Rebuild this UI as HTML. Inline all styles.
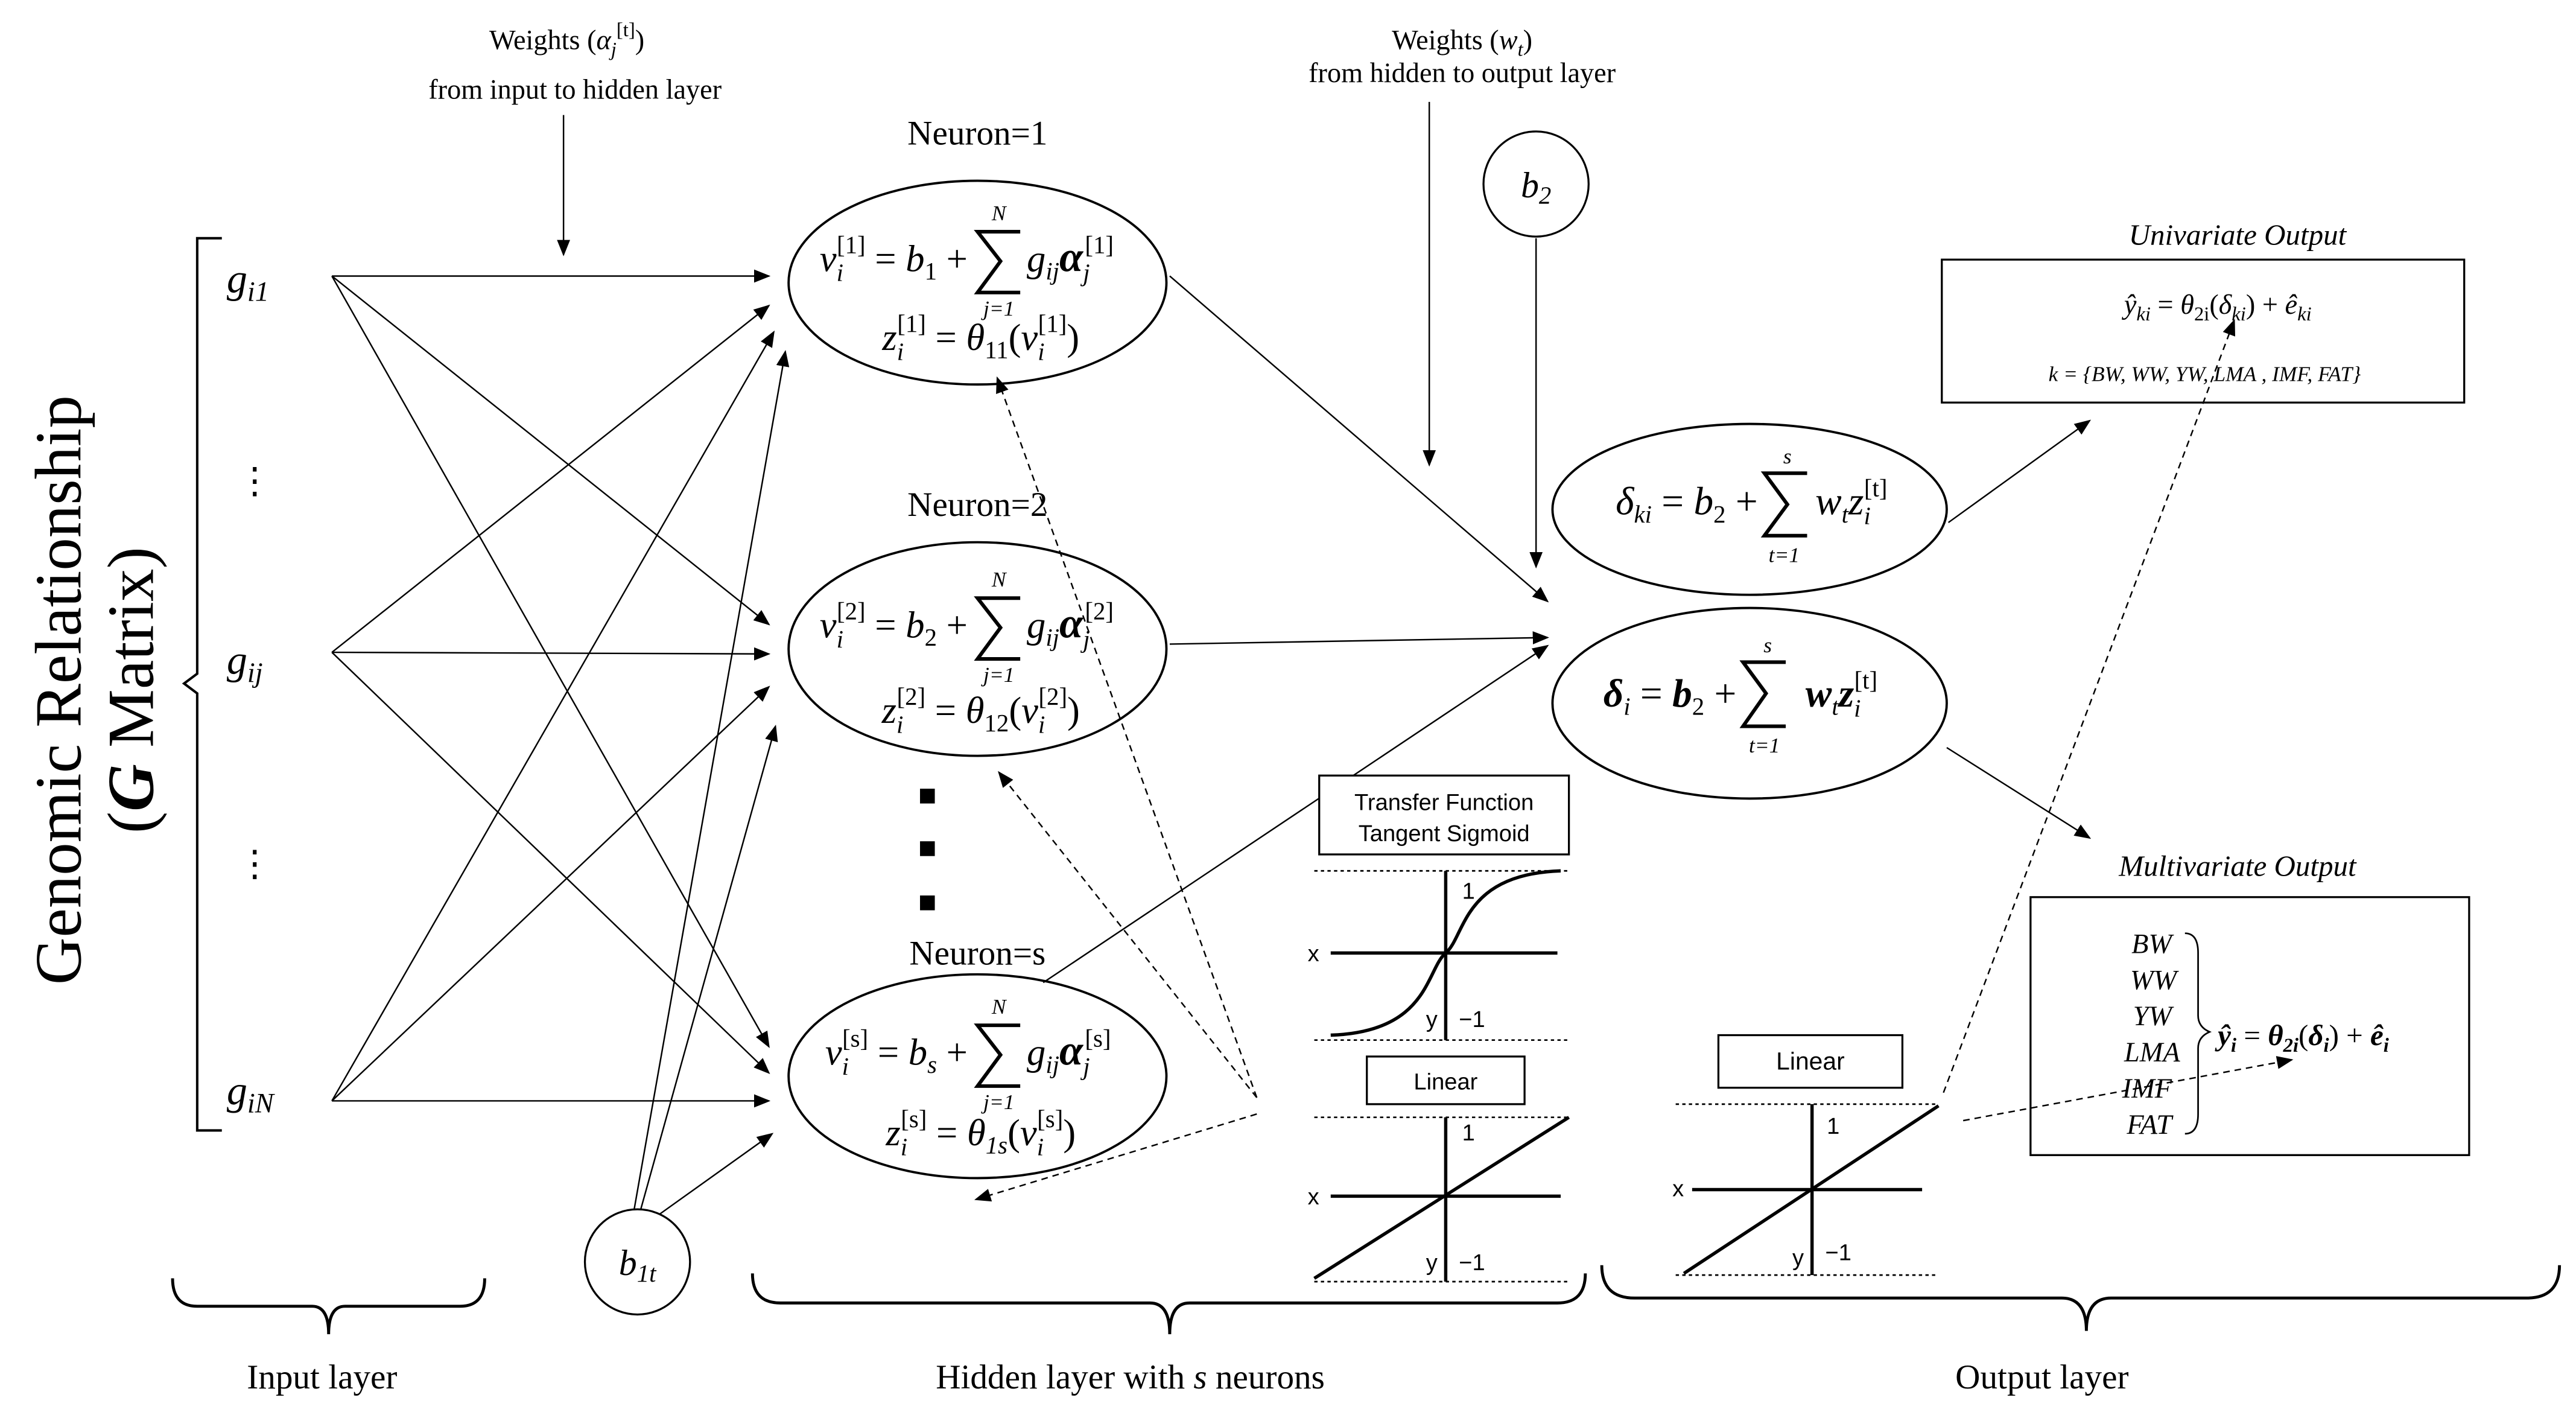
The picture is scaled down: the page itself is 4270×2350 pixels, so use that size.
<!DOCTYPE html>
<html><head><meta charset="utf-8"><style>
html,body{margin:0;padding:0;background:#fff}
svg{display:block}
text{font-family:"Liberation Serif",serif;fill:#000}
.m{font-style:italic}
.s{font-family:"Liberation Sans",sans-serif}
</style></head><body>
<svg width="4270" height="2350" viewBox="0 0 1568 863" xmlns="http://www.w3.org/2000/svg">
<defs>
<marker id="a" markerWidth="10" markerHeight="8" refX="9" refY="4" orient="auto" markerUnits="userSpaceOnUse"><path d="M0,0 L10,4 L0,8 z" fill="#000"/></marker>
</defs>
<rect width="1568" height="863" fill="#fff"/>
<g transform="translate(55,420) rotate(-90)">
<text x="0" y="-6" font-size="40" text-anchor="middle">Genomic Relationship</text>
<text x="0" y="38" font-size="40" text-anchor="middle">(<tspan font-weight="bold" font-style="italic">G</tspan>  Matrix)</text>
</g>
<path d="M135,145 L120,145 L120,410 L112,416 L120,422 L120,688 L135,688" fill="none" stroke="#000" stroke-width="1.5"/>
<g font-size="25" class="m">
<text x="138" y="178">g<tspan font-size="17" dy="5">i1</tspan></text>
<text x="138" y="410">g<tspan font-size="17" dy="5">ij</tspan></text>
<text x="138" y="672">g<tspan font-size="17" dy="5">iN</tspan></text>
</g>
<text x="155" y="300" font-size="22" text-anchor="middle">⋮</text>
<text x="155" y="533" font-size="22" text-anchor="middle">⋮</text>
<g stroke="#000" stroke-width="0.9" marker-end="url(#a)" fill="none">
<line x1="202" y1="168" x2="468" y2="168"/>
<line x1="202" y1="168" x2="468" y2="380"/>
<line x1="202" y1="168" x2="468" y2="637"/>
<line x1="202" y1="397" x2="468" y2="186"/>
<line x1="202" y1="397" x2="468" y2="398"/>
<line x1="202" y1="397" x2="468" y2="653"/>
<line x1="202" y1="670" x2="471" y2="202"/>
<line x1="202" y1="670" x2="468" y2="418"/>
<line x1="202" y1="670" x2="468" y2="670"/>
<line x1="386" y1="736" x2="478" y2="214"/>
<line x1="390" y1="736" x2="472" y2="442"/>
<line x1="400" y1="740" x2="470" y2="690"/>
<line x1="343" y1="70" x2="343" y2="155"/>
<line x1="870" y1="62" x2="870" y2="283"/>
<line x1="935" y1="145" x2="935" y2="345"/>
<line x1="712" y1="168" x2="942" y2="366"/>
<line x1="712" y1="392" x2="942" y2="388"/>
<line x1="635" y1="598" x2="942" y2="393"/>
<line x1="1186" y1="318" x2="1272" y2="256"/>
<line x1="1185" y1="455" x2="1272" y2="510"/>
</g>
<circle cx="388" cy="768" r="32" fill="#fff" stroke="#000" stroke-width="1.2"/>
<text x="388" y="776" font-size="22" class="m" text-anchor="middle">b<tspan font-size="15" dy="4">1t</tspan></text>
<text x="345" y="30" font-size="17" text-anchor="middle">Weights (<tspan class="m">α</tspan><tspan class="m" font-size="12" dy="4">j</tspan><tspan font-size="12" dy="-12">[t]</tspan><tspan dy="8">)</tspan></text>
<text x="350" y="60" font-size="17" text-anchor="middle">from input to hidden layer</text>
<text x="890" y="30" font-size="17" text-anchor="middle">Weights (<tspan class="m">w</tspan><tspan class="m" font-size="12" dy="4">t</tspan><tspan dy="-4">)</tspan></text>
<text x="890" y="50" font-size="17" text-anchor="middle">from hidden to output layer</text>
<circle cx="935" cy="112" r="32" fill="#fff" stroke="#000" stroke-width="1.2"/>
<text x="935" y="120" font-size="22" class="m" text-anchor="middle">b<tspan font-size="15" dy="4">2</tspan></text>
<g font-size="21" text-anchor="middle">
<text x="595" y="88">Neuron=1</text>
<text x="595" y="314">Neuron=2</text>
<text x="595" y="587">Neuron=s</text>
</g>
<g fill="none" stroke="#000" stroke-width="1.4">
<ellipse cx="595" cy="172" rx="115" ry="62"/>
<ellipse cx="595" cy="395" rx="115" ry="65"/>
<ellipse cx="595" cy="655" rx="115" ry="62"/>
</g>
<!-- hidden equations -->
<g font-size="23" class="m">
<g>
<text x="589" y="165" text-anchor="end">v<tspan font-size="15" dy="6">i</tspan><tspan font-size="15" dx="-4" dy="-17" font-style="normal">[1]</tspan><tspan dy="11" font-style="normal"> = </tspan>b<tspan font-size="15" dy="5" font-style="normal">1</tspan><tspan dy="-5" font-style="normal"> +</tspan></text>
<text x="625" y="165">g<tspan font-size="15" dy="5">ij</tspan><tspan dy="-5" font-weight="bold" font-size="26">α</tspan><tspan font-size="15" dy="6">j</tspan><tspan font-size="15" dx="-3" dy="-17" font-style="normal">[1]</tspan></text>
<text x="597" y="213" text-anchor="middle">z<tspan font-size="15" dy="6">i</tspan><tspan font-size="15" dx="-4" dy="-17" font-style="normal">[1]</tspan><tspan dy="11" font-style="normal"> = </tspan>θ<tspan font-size="15" dy="5" font-style="normal">11</tspan><tspan dy="-5" font-style="normal">(</tspan>v<tspan font-size="15" dy="6">i</tspan><tspan font-size="15" dx="-4" dy="-17" font-style="normal">[1]</tspan><tspan dy="11" font-style="normal">)</tspan></text>
<path d="M621,141 L595,141 L609,159 L595,178 L621,178" fill="none" stroke="#000" stroke-width="2.2"/>
<text x="608" y="134" font-size="13" text-anchor="middle">N</text><text x="608" y="192" font-size="13" text-anchor="middle">j=1</text>
</g>
<g transform="translate(0,223)">
<text x="589" y="165" text-anchor="end">v<tspan font-size="15" dy="6">i</tspan><tspan font-size="15" dx="-4" dy="-17" font-style="normal">[2]</tspan><tspan dy="11" font-style="normal"> = </tspan>b<tspan font-size="15" dy="5" font-style="normal">2</tspan><tspan dy="-5" font-style="normal"> +</tspan></text>
<text x="625" y="165">g<tspan font-size="15" dy="5">ij</tspan><tspan dy="-5" font-weight="bold" font-size="26">α</tspan><tspan font-size="15" dy="6">j</tspan><tspan font-size="15" dx="-3" dy="-17" font-style="normal">[2]</tspan></text>
<text x="597" y="217" text-anchor="middle">z<tspan font-size="15" dy="6">i</tspan><tspan font-size="15" dx="-4" dy="-17" font-style="normal">[2]</tspan><tspan dy="11" font-style="normal"> = </tspan>θ<tspan font-size="15" dy="5" font-style="normal">12</tspan><tspan dy="-5" font-style="normal">(</tspan>v<tspan font-size="15" dy="6">i</tspan><tspan font-size="15" dx="-4" dy="-17" font-style="normal">[2]</tspan><tspan dy="11" font-style="normal">)</tspan></text>
<path d="M621,141 L595,141 L609,159 L595,178 L621,178" fill="none" stroke="#000" stroke-width="2.2"/>
<text x="608" y="134" font-size="13" text-anchor="middle">N</text><text x="608" y="192" font-size="13" text-anchor="middle">j=1</text>
</g>
<g transform="translate(0,483)">
<text x="589" y="165" text-anchor="end">v<tspan font-size="15" dy="6">i</tspan><tspan font-size="15" dx="-4" dy="-17" font-style="normal">[s]</tspan><tspan dy="11" font-style="normal"> = </tspan>b<tspan font-size="15" dy="5">s</tspan><tspan dy="-5" font-style="normal"> +</tspan></text>
<text x="625" y="165">g<tspan font-size="15" dy="5">ij</tspan><tspan dy="-5" font-weight="bold" font-size="26">α</tspan><tspan font-size="15" dy="6">j</tspan><tspan font-size="15" dx="-3" dy="-17" font-style="normal">[s]</tspan></text>
<text x="597" y="214" text-anchor="middle">z<tspan font-size="15" dy="6">i</tspan><tspan font-size="15" dx="-4" dy="-17" font-style="normal">[s]</tspan><tspan dy="11" font-style="normal"> = </tspan>θ<tspan font-size="15" dy="5">1s</tspan><tspan dy="-5" font-style="normal">(</tspan>v<tspan font-size="15" dy="6">i</tspan><tspan font-size="15" dx="-4" dy="-17" font-style="normal">[s]</tspan><tspan dy="11" font-style="normal">)</tspan></text>
<path d="M621,141 L595,141 L609,159 L595,178 L621,178" fill="none" stroke="#000" stroke-width="2.2"/>
<text x="608" y="134" font-size="13" text-anchor="middle">N</text><text x="608" y="192" font-size="13" text-anchor="middle">j=1</text>
</g>
</g>
<rect x="560" y="480" width="9" height="9"/><rect x="560" y="512" width="9" height="9"/><rect x="560" y="545" width="9" height="9"/>
<g stroke="#000" stroke-width="0.9" stroke-dasharray="4,3" fill="none" marker-end="url(#a)">
<line x1="765" y1="668" x2="607" y2="230"/>
<line x1="765" y1="668" x2="608" y2="470"/>
<line x1="765" y1="678" x2="594" y2="730"/>
<line x1="1183" y1="665" x2="1360" y2="195"/>
<line x1="1195" y1="682" x2="1395" y2="645"/>
</g>
<g fill="none" stroke="#000" stroke-width="1.4">
<ellipse cx="1065" cy="310" rx="120" ry="52"/>
<ellipse cx="1065" cy="428" rx="120" ry="58"/>
</g>
<g font-size="24" class="m">
<text x="1070" y="313" text-anchor="end">δ<tspan font-size="15" dy="5">ki</tspan><tspan dy="-5" font-style="normal"> = </tspan>b<tspan font-size="15" dy="5" font-style="normal">2</tspan><tspan dy="-5" font-style="normal"> +</tspan></text>
<path d="M1100,288 L1074,288 L1088,307 L1074,326 L1100,326" fill="none" stroke="#000" stroke-width="2.2"/>
<text x="1088" y="282" font-size="13" text-anchor="middle">s</text><text x="1086" y="342" font-size="13" text-anchor="middle">t=1</text>
<text x="1105" y="313">w<tspan font-size="15" dy="5">t</tspan><tspan dy="-5">z</tspan><tspan font-size="15" dy="6">i</tspan><tspan font-size="15" dx="-4" dy="-17" font-style="normal">[t]</tspan></text>

<text x="1057" y="430" text-anchor="end" font-weight="bold">δ<tspan font-size="15" dy="5" font-weight="normal">i</tspan><tspan dy="-5" font-style="normal" font-weight="normal"> = </tspan>b<tspan font-size="15" dy="5" font-style="normal" font-weight="normal">2</tspan><tspan dy="-5" font-style="normal" font-weight="normal"> +</tspan></text>
<path d="M1087,403 L1061,403 L1075,422 L1061,442 L1087,442" fill="none" stroke="#000" stroke-width="2.2"/>
<text x="1076" y="397" font-size="13" text-anchor="middle">s</text><text x="1074" y="458" font-size="13" text-anchor="middle">t=1</text>
<text x="1099" y="430" font-weight="bold">w<tspan font-size="15" dy="5" font-weight="normal">t</tspan><tspan dy="-5">z</tspan><tspan font-size="15" dy="6" font-weight="normal">i</tspan><tspan font-size="15" dx="-4" dy="-17" font-style="normal" font-weight="normal">[t]</tspan></text>
</g>
<text x="1362" y="149" font-size="18" class="m" text-anchor="middle">Univariate Output</text>
<rect x="1182" y="158" width="318" height="87" fill="none" stroke="#000" stroke-width="1.2"/>
<text x="1350" y="191" font-size="17" class="m" text-anchor="middle">ŷ<tspan font-size="12" dy="4">ki</tspan><tspan dy="-4" font-style="normal"> = </tspan>θ<tspan font-size="12" dy="4" font-style="normal">2i</tspan><tspan dy="-4" font-style="normal">(</tspan>δ<tspan font-size="12" dy="4">ki</tspan><tspan dy="-4" font-style="normal">) + </tspan>ê<tspan font-size="12" dy="4">ki</tspan></text>
<text x="1342" y="232" font-size="13" class="m" text-anchor="middle">k = {BW, WW, YW, LMA , IMF, FAT}</text>
<text x="1362" y="533" font-size="18" class="m" text-anchor="middle">Multivariate Output</text>
<rect x="1236" y="546" width="267" height="157" fill="none" stroke="#000" stroke-width="1.2"/>
<g font-size="17" class="m" text-anchor="end">
<text x="1322" y="580">BW</text><text x="1325" y="602">WW</text><text x="1322" y="624">YW</text>
<text x="1327" y="646">LMA</text><text x="1322" y="668">IMF</text><text x="1322" y="690">FAT</text>
</g>
<path d="M1330,568 Q1338,568 1338,580 L1338,618 Q1338,625 1345,628 Q1338,631 1338,638 L1338,678 Q1338,690 1330,690" fill="none" stroke="#000"/>
<text x="1350" y="636" font-size="18" class="m" font-weight="bold">ŷ<tspan font-size="12" dy="4">i</tspan><tspan dy="-4" font-weight="normal" font-style="normal"> = </tspan>θ<tspan font-size="12" dy="4">2i</tspan><tspan dy="-4" font-weight="normal" font-style="normal">(</tspan>δ<tspan font-size="12" dy="4">i</tspan><tspan dy="-4" font-weight="normal" font-style="normal">) + </tspan>ê<tspan font-size="12" dy="4">i</tspan></text>
<g class="s">
<rect x="803" y="472" width="152" height="48" fill="#fff" stroke="#000" stroke-width="1.2"/>
<text x="879" y="493" font-size="14" text-anchor="middle" class="s">Transfer Function</text>
<text x="879" y="512" font-size="14" text-anchor="middle" class="s">Tangent Sigmoid</text>
<rect x="832" y="643" width="96" height="29" fill="#fff" stroke="#000" stroke-width="1.2"/>
<text x="880" y="663" font-size="14" text-anchor="middle" class="s">Linear</text>
<rect x="1046" y="630" width="112" height="32" fill="#fff" stroke="#000" stroke-width="1.2"/>
<text x="1102" y="651" font-size="15" text-anchor="middle" class="s">Linear</text>
</g>
<g stroke="#000" fill="none">
<line x1="800" y1="530" x2="955" y2="530" stroke-dasharray="2,2"/>
<line x1="800" y1="633" x2="955" y2="633" stroke-dasharray="2,2"/>
<line x1="880" y1="530" x2="880" y2="633" stroke-width="2"/>
<line x1="810" y1="580" x2="948" y2="580" stroke-width="2"/>
<path d="M810,630 C870,628 868,590 880,580 C892,570 890,532 950,530" stroke-width="2"/>
<line x1="800" y1="680" x2="955" y2="680" stroke-dasharray="2,2"/>
<line x1="800" y1="780" x2="955" y2="780" stroke-dasharray="2,2"/>
<line x1="880" y1="680" x2="880" y2="780" stroke-width="2"/>
<line x1="810" y1="728" x2="950" y2="728" stroke-width="2"/>
<line x1="800" y1="778" x2="955" y2="680" stroke-width="2"/>
<line x1="1020" y1="672" x2="1180" y2="672" stroke-dasharray="2,2"/>
<line x1="1020" y1="776" x2="1180" y2="776" stroke-dasharray="2,2"/>
<line x1="1103" y1="672" x2="1103" y2="776" stroke-width="2"/>
<line x1="1030" y1="724" x2="1170" y2="724" stroke-width="2"/>
<line x1="1025" y1="775" x2="1180" y2="673" stroke-width="2"/>
</g>
<g class="s" font-size="14">
<text x="796" y="585" class="s">x</text><text x="890" y="547" class="s">1</text><text x="868" y="625" class="s">y</text><text x="888" y="625" class="s">−1</text>
<text x="796" y="733" class="s">x</text><text x="890" y="694" class="s">1</text><text x="868" y="773" class="s">y</text><text x="888" y="773" class="s">−1</text>
<text x="1018" y="728" class="s">x</text><text x="1112" y="690" class="s">1</text><text x="1091" y="770" class="s">y</text><text x="1111" y="767" class="s">−1</text>
</g>
<g fill="none" stroke="#000" stroke-width="1.8">
<path d="M105,778 Q105,795 120,795 L190,795 Q200,795 200,812 Q200,795 210,795 L280,795 Q295,795 295,778"/>
<path d="M458,775 Q458,793 475,793 L700,793 Q712,793 712,812 Q712,793 724,793 L948,793 Q965,793 965,775"/>
<path d="M975,770 Q975,790 995,790 L1255,790 Q1270,790 1270,810 Q1270,790 1285,790 L1538,790 Q1558,790 1558,770"/>
</g>
<g font-size="21" text-anchor="middle">
<text x="196" y="845">Input layer</text>
<text x="688" y="845">Hidden layer with <tspan class="m">s</tspan> neurons</text>
<text x="1243" y="845">Output layer</text>
</g>
</svg>
</body></html>
